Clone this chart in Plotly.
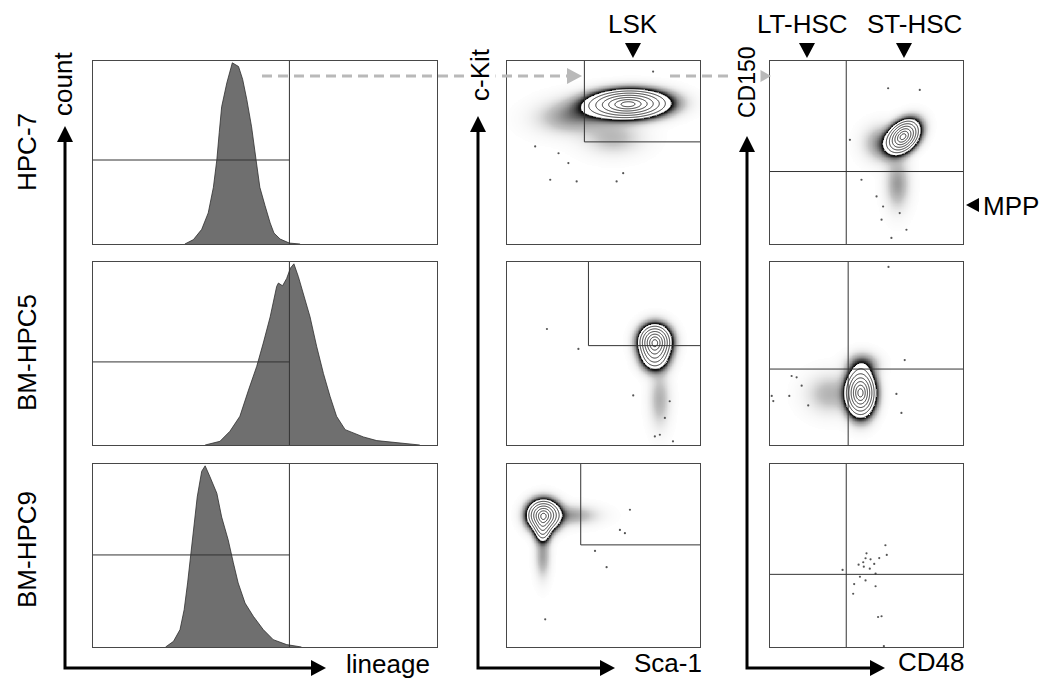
import numpy as np
import plotly.graph_objects as go

W, H = 1041, 678
FONT = "Liberation Sans, Arial, sans-serif"

# ---------------- data ----------------
row_labels = ["HPC-7", "BM-HPC5", "BM-HPC9"]

# lineage histograms (x: lineage channel 0-100, y: % of max count)
hpc7_lin = [26.7, 29.2, 31.6, 33.5, 35.0, 36.0, 36.7, 37.4, 38.9, 40.5, 42.3, 43.5, 44.7,
            46.1, 47.4, 48.5, 50.0, 51.5, 52.6, 54.4, 57.1, 60.2]
hpc7_cnt = [0, 2.4, 8, 17, 31, 46, 61, 75, 88, 99, 97, 90, 79, 64, 46, 31, 21, 11.5, 6,
            2.7, 0.5, 0]
hpc5_lin = [32.6, 36.9, 39.8, 42.7, 45.2, 47.6, 49.5, 51.5, 53.4, 53.9, 55.1, 56.3, 57.4,
            58.4, 59.7, 61.1, 63.1, 65.0, 67.0, 68.9, 70.8, 73.3, 75.7, 78.6, 82.5, 87.3,
            94.1, 95.0]
hpc5_cnt = [0, 2, 7.5, 15.7, 30, 43, 55.7, 70, 86.7, 88.5, 87, 91, 96.7, 99, 92, 83, 70,
            54, 39, 26.6, 15.7, 8.4, 6.6, 4.4, 2.4, 1.5, 0.5, 0]
hpc9_lin = [21.1, 23.4, 25.3, 26.5, 27.5, 28.4, 29.4, 30.3, 31.6, 32.6, 34.0, 36.0, 37.4,
            39.3, 40.8, 42.2, 44.2, 46.6, 49.5, 52.4, 56.3, 60.6]
hpc9_cnt = [0, 3.1, 9.5, 20.4, 35, 49.5, 66, 82, 96, 99, 93, 84, 71, 58.5, 46, 35, 24,
            16.8, 9.5, 4, 1.3, 0]
lin_gate = [57.1, 57.1, 57.1]
cnt_gate = [45.9, 45.4, 50.3]

# c-Kit / Sca-1 gates (LSK) and CD48 / CD150 quadrant gates
lsk_sca_gate = [40.1, 42.2, 38.2]
lsk_kit_gate = [55.8, 54.3, 55.8]
cd48_gate = [39.5, 40.5, 39.5]
cd150_gate = [39.6, 41.5, 39.7]

# populations: panel id (2,3 = row1; 5,6 = row2; 8 = row3), centre, spread, correlation, weight
pop_panel = [2, 2, 2, 5, 5, 5, 8, 8, 8, 8, 3, 3, 3, 6, 6, 6]
pop_cx = [62.8, 35.0, 55.0, 76.6, 76.5, 79.0, 18.9, 18.5, 33.0, 18.5, 69.0, 66.0, 58.0, 46.9, 31.0, 48.0]
pop_cy = [76.4, 70.0, 58.0, 56.5, 48.0, 25.0, 72.0, 64.0, 72.0, 50.0, 58.7, 33.0, 55.0, 28.5, 28.0, 44.0]
pop_sx = [11.2, 12.0, 10.0, 4.5, 4.2, 3.5, 4.5, 2.5, 9.0, 2.5, 4.6, 4.0, 6.0, 4.1, 8.0, 5.0]
pop_sy = [4.2, 6.0, 6.0, 5.0, 4.6, 10.0, 4.5, 4.0, 3.5, 8.0, 4.9, 9.0, 6.0, 6.9, 7.0, 4.0]
pop_rho = [0.05, 0.1, 0.0, 0.0, 0.0, 0.0, 0.0, 0.0, 0.0, 0.0, 0.35, 0.0, 0.0, 0.0, 0.0, 0.0]
pop_w = [1.0, 0.07, 0.04, 1.0, 0.35, 0.05, 1.0, 0.35, 0.06, 0.06, 1.0, 0.06, 0.07, 1.0, 0.045, 0.08]

# isolated events
out_panel = [2, 2, 2, 2, 2, 2, 2, 2,
             3, 3, 3, 3, 3, 3, 3, 3, 3, 3,
             5, 5, 5, 5, 5, 5, 5, 5,
             6, 6, 6, 6, 6, 6, 6, 6, 6, 6, 6,
             8, 8, 8, 8, 8, 8,
             9, 9, 9, 9, 9, 9, 9, 9, 9, 9, 9, 9, 9, 9, 9, 9, 9, 9, 9, 9, 9]
out_x = [22.4, 36.1, 56.8, 60.2, 31.8, 26.7, 14.6, 75.7,
         62.9, 70.7, 57.8, 67.2, 77.6, 61.2, 41.4, 47.4, 55.2, 58.6,
         20.7, 37.0, 76.6, 86.0, 81.8, 79.2, 65.4, 84.3,
         61.4, 0.9, 11.2, 13.8, 16.4, 19.8, 10.0, 1.7, 69.8, 68.1, 65.5,
         51.6, 63.7, 58.5, 45.6, 19.8, 61.1,
         59.8, 60.5, 50.0, 49.5, 52.1, 56.6, 45.9, 48.3, 48.6, 51.7, 54.0, 37.6, 54.7,
         46.6, 49.5, 43.6, 54.7, 43.1, 56.0, 57.8, 59.0]
out_y = [35.1, 34.2, 34.2, 38.7, 44.2, 49.6, 53.3, 94.2,
         3.3, 7.8, 13.3, 16.9, 84.2, 85.1, 56.9, 35.1, 26.0, 20.5,
         63.4, 52.5, 4.7, 2.0, 14.8, 5.6, 27.1, 23.9,
         97.3, 26.8, 37.7, 37.0, 32.4, 21.6, 26.8, 24.0, 46.4, 17.5, 27.9,
         43.6, 75.0, 64.0, 52.5, 15.1, 62.2,
         55.6, 50.3, 51.2, 48.5, 47.9, 48.6, 45.0, 46.3, 43.9, 42.8, 45.4, 42.1, 40.1,
         38.4, 36.4, 34.4, 33.2, 29.1, 16.4, 16.8, 0.5]

# ---------------- layout helpers ----------------
def px(x):
    return x / W


def py(y):
    return 1 - y / H


col_x0 = [93, 507, 770]
col_w = [344, 193, 193]
row_y0 = [61, 262, 464]
row_h = 183

fig = go.Figure()
layout = dict(width=W, height=H, margin=dict(l=0, r=0, t=0, b=0),
              paper_bgcolor="white", plot_bgcolor="white", showlegend=False)


def ax_id(i):
    return ("x" if i == 1 else f"x{i}"), ("y" if i == 1 else f"y{i}")


for r in range(3):
    for c in range(3):
        i = r * 3 + c + 1
        xa, ya = ax_id(i)
        common = dict(range=[0, 100], showgrid=False, zeroline=False, showticklabels=False,
                      ticks="", showline=True, mirror=True, linecolor="#474747",
                      linewidth=1, fixedrange=True)
        layout["xaxis" + ("" if i == 1 else str(i))] = dict(
            domain=[px(col_x0[c]), px(col_x0[c] + col_w[c])], anchor=ya, **common)
        layout["yaxis" + ("" if i == 1 else str(i))] = dict(
            domain=[py(row_y0[r] + row_h), py(row_y0[r])], anchor=xa, **common)

shapes = []
gate_line = dict(color="#333333", width=1)

# ---------------- histograms ----------------
hists = [(hpc7_lin, hpc7_cnt), (hpc5_lin, hpc5_cnt), (hpc9_lin, hpc9_cnt)]
for r, (lx, ly) in enumerate(hists):
    i = r * 3 + 1
    xa, ya = ax_id(i)
    fig.add_trace(go.Scatter(x=lx, y=ly, mode="lines", fill="tozeroy",
                             fillcolor="#6f6f6f", line=dict(color="#2e2e2e", width=0.8),
                             xaxis=xa, yaxis=ya, hoverinfo="skip"))
    shapes.append(dict(type="line", xref=xa, yref=ya, x0=lin_gate[r], x1=lin_gate[r],
                       y0=0, y1=100, line=gate_line))
    shapes.append(dict(type="line", xref=xa, yref=ya, x0=0, x1=lin_gate[r],
                       y0=cnt_gate[r], y1=cnt_gate[r], line=gate_line))

# ---------------- density panels ----------------
g = np.linspace(0, 100, 301)
GX, GY = np.meshgrid(g, g)
halo_scale = [[0.0, "rgba(255,255,255,0)"], [0.3, "rgba(170,170,170,0.7)"],
              [0.6, "rgba(100,100,100,0.95)"], [0.85, "rgba(35,35,35,1)"],
              [1.0, "rgba(0,0,0,1)"]]
for pid in [2, 3, 5, 6, 8, 9]:
    xa, ya = ax_id(pid)
    ks = [k for k in range(len(pop_panel)) if pop_panel[k] == pid]
    if ks:
        d = np.zeros_like(GX)
        for k in ks:
            dx = (GX - pop_cx[k]) / pop_sx[k]
            dy = (GY - pop_cy[k]) / pop_sy[k]
            rho = pop_rho[k]
            q = (dx ** 2 - 2 * rho * dx * dy + dy ** 2) / (1 - rho ** 2)
            d += pop_w[k] * np.exp(-0.5 * q)
        zr = np.sqrt(-2 * np.log(np.maximum(d / d.max(), 1e-300)))
        halo = 0.6 * np.exp(-(zr - 2.0) / 0.35) + 0.4 * np.exp(-(zr - 2.0) / 0.8)
        halo = np.where((zr > 2.0) & (halo > 0.05), halo, np.nan)
        fig.add_trace(go.Heatmap(x=g, y=g, z=halo, zmin=0, zmax=1, colorscale=halo_scale,
                                 showscale=False, xaxis=xa, yaxis=ya, hoverinfo="skip"))
        fig.add_trace(go.Contour(x=g, y=g, z=zr, xaxis=xa, yaxis=ya, showscale=False,
                                 contours=dict(coloring="lines", start=0.32, end=2.01, size=0.28),
                                 colorscale=[[0, "#1e1e1e"], [1, "#1e1e1e"]],
                                 line=dict(width=0.9, smoothing=1), hoverinfo="skip"))
    oi = [k for k in range(len(out_panel)) if out_panel[k] == pid]
    if oi:
        fig.add_trace(go.Scatter(x=[out_x[k] for k in oi], y=[out_y[k] for k in oi],
                                 mode="markers", marker=dict(size=2.2, color="#555555"),
                                 xaxis=xa, yaxis=ya, hoverinfo="skip"))

# gates for middle and right columns
for r in range(3):
    xa, ya = ax_id(r * 3 + 2)
    shapes.append(dict(type="line", xref=xa, yref=ya, x0=lsk_sca_gate[r], x1=lsk_sca_gate[r],
                       y0=lsk_kit_gate[r], y1=100, line=gate_line))
    shapes.append(dict(type="line", xref=xa, yref=ya, x0=lsk_sca_gate[r], x1=100,
                       y0=lsk_kit_gate[r], y1=lsk_kit_gate[r], line=gate_line))
    xa, ya = ax_id(r * 3 + 3)
    shapes.append(dict(type="line", xref=xa, yref=ya, x0=cd48_gate[r], x1=cd48_gate[r],
                       y0=0, y1=100, line=gate_line))
    shapes.append(dict(type="line", xref=xa, yref=ya, x0=0, x1=100,
                       y0=cd150_gate[r], y1=cd150_gate[r], line=gate_line))


# ---------------- decorations (paper coordinates) ----------------
def path(points, close=True):
    s = "M " + " L ".join(f"{px(x):.5f},{py(y):.5f}" for x, y in points)
    return s + (" Z" if close else "")


def tri(points, color="black"):
    shapes.append(dict(type="path", xref="paper", yref="paper", path=path(points),
                       fillcolor=color, line=dict(width=0), layer="above"))


# grey dashed flow arrows
grey = "#b9b9b9"
for x0, x1 in [(262, 567), (670, 757)]:
    shapes.append(dict(type="line", xref="paper", yref="paper", x0=px(x0), x1=px(x1),
                       y0=py(76), y1=py(76), line=dict(color=grey, width=3, dash="10px,6px")))
tri([(582, 76), (567, 68), (567, 84)], grey)
tri([(771, 76), (757, 68), (757, 84)], grey)

# L-shaped axis arrows
for xv, ytop, xright in [(65, 141, 312), (478, 131, 601), (747, 151, 871)]:
    shapes.append(dict(type="path", xref="paper", yref="paper",
                       path=path([(xv, ytop), (xv, 668), (xright, 668)], close=False),
                       line=dict(color="black", width=3)))
    tri([(xv, ytop - 15), (xv - 8, ytop + 1), (xv + 8, ytop + 1)])
    tri([(xright + 14, 668), (xright - 1, 660), (xright - 1, 676)])

# population markers
for xc in [633, 807, 904]:
    tri([(xc, 58), (xc - 8, 43), (xc + 8, 43)])
tri([(966, 205), (979, 198), (979, 212)])

layout["shapes"] = shapes

# ---------------- text ----------------
ann = []


def label(text, x, y, angle=0, bg=None, size=26):
    d = dict(text=text, x=px(x), y=py(y), xref="paper", yref="paper", showarrow=False,
             xanchor="center", yanchor="middle", textangle=angle,
             font=dict(family=FONT, size=size, color="black"))
    if bg:
        d["bgcolor"] = bg
        d["borderpad"] = 0
    ann.append(d)


label("count", 63, 84, -90)
for lab, yc in zip(row_labels, [152, 353, 550]):
    label(lab, 27, yc, -90)
label("lineage", 388, 664)
label("c-Kit", 480, 75, -90, bg="white")
label("Sca-1", 668, 663)
label("CD150", 747, 82, -90, bg="white", size=23)
label("CD48", 931, 662)
label("LSK", 633, 24)
label("LT-HSC", 802, 24)
label("ST-HSC", 914, 24)
label("MPP", 1011, 206)
layout["annotations"] = ann

fig.update_layout(**layout)
fig.write_html("out.html")
